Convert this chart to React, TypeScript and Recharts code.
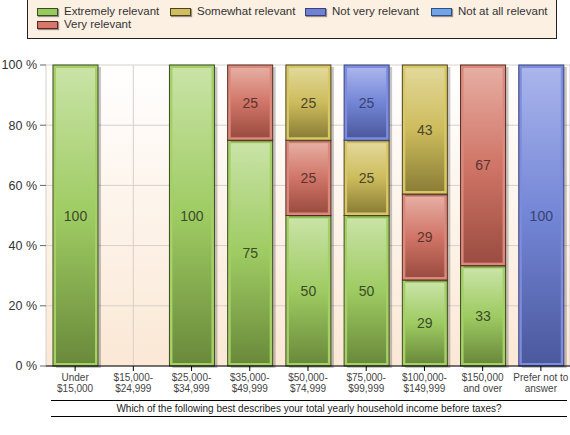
import React from 'react';
import { BarChart, Bar, XAxis, YAxis, CartesianGrid, LabelList } from 'recharts';

const categories = [
  'Under\n$15,000',
  '$15,000-\n$24,999',
  '$25,000-\n$34,999',
  '$35,000-\n$49,999',
  '$50,000-\n$74,999',
  '$75,000-\n$99,999',
  '$100,000-\n$149,999',
  '$150,000\nand over',
  'Prefer not to\nanswer',
];

const extremelyRelevant = [100, null, 100, 75, 50, 50, 28.57, 33.33, null];
const veryRelevant = [null, null, null, 25, 25, null, 28.57, 66.67, null];
const somewhatRelevant = [null, null, null, null, 25, 25, 42.86, null, null];
const notVeryRelevant = [null, null, null, null, null, 25, null, null, 100];
const notAtAllRelevant = [null, null, null, null, null, null, null, null, null];

const yTicks = [0, 20, 40, 60, 80, 100];

const FONT = '"Liberation Sans", Arial, sans-serif';

const series = [
  { key: 'extremely', name: 'Extremely relevant', values: extremelyRelevant, frame: '#a5d066', outline: '#3c4a26', top: '#c9e3a6', mid: '#9ecb62', bottom: '#6a8a3b', swatch: '#98c95c', text: '#3c4a2c' },
  { key: 'very', name: 'Very relevant', values: veryRelevant, frame: '#da8a7c', outline: '#5a2a22', top: '#e6ada2', mid: '#d07567', bottom: '#9b4c40', swatch: '#d7776a', text: '#5a3430' },
  { key: 'somewhat', name: 'Somewhat relevant', values: somewhatRelevant, frame: '#d9c766', outline: '#4a4220', top: '#e2d899', mid: '#cdbc5c', bottom: '#8b7e37', swatch: '#cfbd5e', text: '#4a4530' },
  { key: 'notVery', name: 'Not very relevant', values: notVeryRelevant, frame: '#7d8cdc', outline: '#39427a', top: '#aab5ec', mid: '#7385d6', bottom: '#4b599d', swatch: '#7081d3', text: '#3a4270' },
  { key: 'notAtAll', name: 'Not at all relevant', values: notAtAllRelevant, frame: '#7aa9f2', outline: '#33507a', top: '#b0cdf7', mid: '#78a6ee', bottom: '#4a6fa8', swatch: '#74a3ee', text: '#334a70' },
];

// legend layout: column-major, two rows
const legendOrder = ['extremely', 'somewhat', 'notVery', 'notAtAll', 'very'];
const legendPos = [
  { left: 9, top: 5 },
  { left: 142, top: 5 },
  { left: 277, top: 5 },
  { left: 403, top: 5 },
  { left: 9, top: 18 },
];

const data = categories.map((c, i) => {
  const row: any = { name: c };
  series.forEach((s) => {
    row[s.key] = s.values[i];
  });
  return row;
});

const makeShape = (s: any) => (props: any) => {
  const { x, y, width, height } = props;
  if (!height || height <= 0 || !width) return <g />;
  return (
    <g>
      <rect x={x + 3} y={y + 2} width={width} height={height} fill="#000" opacity={0.22} />
      <rect x={x} y={y} width={width} height={height} fill={s.frame} stroke={s.outline} strokeWidth={1} />
      <rect x={x + 3} y={y + 3} width={Math.max(width - 6, 0)} height={Math.max(height - 6, 0)} fill={`url(#grad-${s.key})`} />
    </g>
  );
};

const makeLabel = (s: any) => (props: any) => {
  const { x, y, width, height, value } = props;
  if (value === null || value === undefined || !height) return null;
  return (
    <text
      x={x + width / 2}
      y={y + height / 2}
      textAnchor="middle"
      dominantBaseline="central"
      fontSize={14}
      fontFamily={FONT}
      fill={s.text}
    >
      {Math.round(value)}
    </text>
  );
};

const XTick = ({ x, y, payload }: any) => {
  const lines = String(payload.value).split('\n');
  return (
    <text x={x} y={y} textAnchor="middle" fontSize={10} fontFamily={FONT} fill="#444">
      {lines.map((l, i) => (
        <tspan key={i} x={x} dy={i === 0 ? 8 : 11}>
          {l}
        </tspan>
      ))}
    </text>
  );
};

const App = () => {
  return (
    <div style={{ position: 'absolute', left: 0, top: 0, width: 570, height: 435, background: '#fff', fontFamily: FONT }}>
      <svg width={0} height={0} style={{ position: 'absolute' }}>
        <defs>
          <linearGradient id="plotBg" x1="0" y1="0" x2="0" y2="1">
            <stop offset="0%" stopColor="#ffffff" />
            <stop offset="100%" stopColor="#fbe8d5" />
          </linearGradient>
          {series.map((s) => (
            <linearGradient key={s.key} id={`grad-${s.key}`} x1="0" y1="0" x2="0" y2="1">
              <stop offset="0%" stopColor={s.top} />
              <stop offset="50%" stopColor={s.mid} />
              <stop offset="100%" stopColor={s.bottom} />
            </linearGradient>
          ))}
        </defs>
      </svg>

      <div
        style={{
          position: 'absolute',
          left: 27,
          top: -1,
          width: 528,
          height: 38,
          border: '1px solid #222',
          background: '#fcf0e3',
          fontSize: 11.5,
          color: '#333',
        }}
      >
        {legendOrder.map((k, i) => {
          const s = series.find((v) => v.key === k)!;
          return (
            <div key={k} style={{ position: 'absolute', left: legendPos[i].left, top: legendPos[i].top, display: 'flex', alignItems: 'center', whiteSpace: 'nowrap' }}>
              <span
                style={{
                  display: 'inline-block',
                  flexShrink: 0,
                  width: 19,
                  height: 6,
                  background: s.swatch,
                  border: '1px solid ' + s.outline,
                  boxShadow: '1px 1px 1px rgba(0,0,0,0.4)',
                  marginRight: 6,
                }}
              />
              <span style={{ lineHeight: '13px' }}>{s.name}</span>
            </div>
          );
        })}
      </div>

      <div style={{ position: 'absolute', left: 0, top: 0 }}>
        <BarChart
          width={570}
          height={430}
          data={data}
          margin={{ top: 65, right: 0, bottom: 34, left: 0 }}
          barSize={45}
        >
          <CartesianGrid stroke="#d6d0ca" fill="url(#plotBg)" fillOpacity={1} />
          <XAxis
            dataKey="name"
            interval={0}
            height={30}
            tick={<XTick />}
            axisLine={{ stroke: '#000' }}
            tickLine={{ stroke: '#000' }}
            tickSize={5}
          />
          <YAxis
            width={46}
            domain={[0, 100]}
            ticks={yTicks}
            tickFormatter={(v: number) => `${v} %`}
            axisLine={false}
            tickLine={{ stroke: '#666' }}
            tickSize={6}
            tickMargin={3}
            tick={{ fontSize: 12.5, fill: '#333', fontFamily: FONT }}
          />
          {series.map((s) => (
            <Bar
              key={s.key}
              dataKey={s.key}
              name={s.name}
              stackId="a"
              fill={s.mid}
              shape={makeShape(s)}
              isAnimationActive={false}
            >
              <LabelList dataKey={s.key} content={makeLabel(s)} />
            </Bar>
          ))}
        </BarChart>
      </div>

      <div
        style={{
          position: 'absolute',
          left: 51,
          top: 400,
          width: 516,
          height: 15,
          borderTop: '1px solid #000',
          borderBottom: '1px solid #000',
          fontSize: 10,
          color: '#222',
          textAlign: 'center',
          lineHeight: '15px',
        }}
      >
        Which of the following best describes your total yearly household income before taxes?
      </div>
    </div>
  );
};

export default App;
